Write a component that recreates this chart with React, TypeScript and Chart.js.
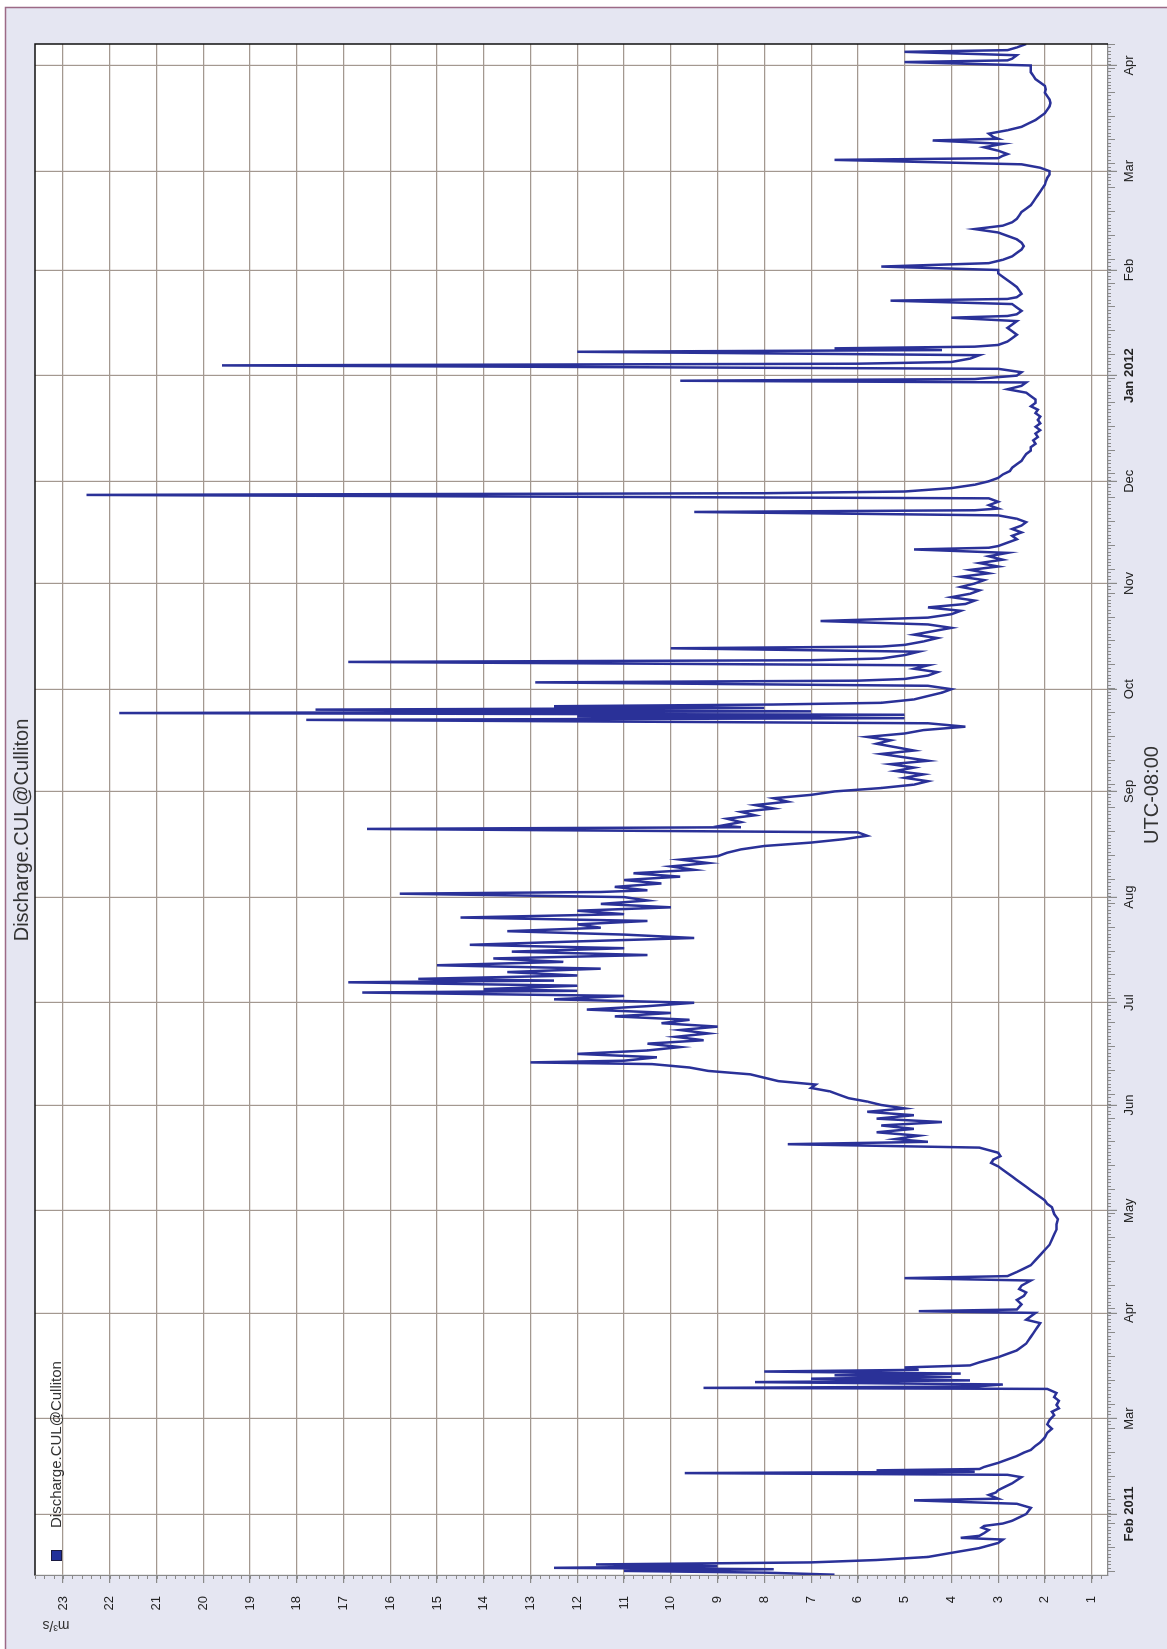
import React, { useEffect, useRef } from 'react';
import { Chart, registerables } from 'chart.js';

Chart.register(...registerables);

const W = 1649;
const H = 1167;
const FONT = '"Liberation Sans", Arial, Helvetica, sans-serif';

// day offsets counted from 2011-01-01
const monthStartDays = [31, 59, 90, 120, 151, 181, 212, 243, 273, 304, 334, 365, 396, 425, 456];
const monthLabels = ['Feb 2011', 'Mar', 'Apr', 'May', 'Jun', 'Jul', 'Aug', 'Sep', 'Oct', 'Nov', 'Dec', 'Jan 2012', 'Feb', 'Mar', 'Apr'];
const boldMonthLabels = ['Feb 2011', 'Jan 2012'];
const valueTicks = [1, 2, 3, 4, 5, 6, 7, 8, 9, 10, 11, 12, 13, 14, 15, 16, 17, 18, 19, 20, 21, 22, 23];

const seriesName = 'Discharge.CUL@Culliton';
const chartTitle = 'Discharge.CUL@Culliton';
const timeAxisTitle = 'UTC-08:00';
const unitLabel = 'm³/s';

// [day, discharge m3/s]
const jan2011: [number, number][] = [[13.2,6.5],[13.8,8],[14.3,11],[14.8,7.8],[15.2,12.5],[15.7,9],[16.2,11.6],[16.8,7],[17.5,5.6],[18.4,4.5],[19.6,4.0],[21,3.4],[22.5,3.0],[23.5,2.9],[24,3.8],[24.6,3.4],[25.4,3.3],[26.3,3.2],[27,3.35],[27.5,3.3],[28.2,2.9],[29,2.7],[30,2.55],[31,2.4]];
const feb2011: [number, number][] = [[32.8,2.3],[34,2.6],[35,4.8],[35.5,3.0],[36.6,3.2],[37.3,3.05],[38,3.0],[39,2.85],[40,2.7],[41.8,2.5],[42.5,2.8],[43,9.7],[43.4,3.5],[43.8,5.6],[44.2,3.4],[44.8,3.3],[46,3.0],[47,2.8],[48,2.6],[49,2.45],[49.8,2.3],[51,2.2],[52,2.1],[53.5,2.0],[54.8,1.95],[56,1.85],[57.3,1.95],[58.6,1.9]];
const mar2011: [number, number][] = [[60,1.8],[61,1.85],[62,1.7],[63,1.75],[64.2,1.7],[65.3,1.8],[66.5,1.75],[67.7,1.95],[68,9.3],[68.4,3.5],[69,2.9],[69.7,8.2],[70.2,3.6],[70.7,7.0],[71.2,4.0],[71.7,6.5],[72.2,3.8],[72.8,8.0],[73.3,4.7],[74,5.0],[74.6,3.6],[75.5,3.4],[77,3.0],[78,2.8],[79,2.6],[80,2.5],[81,2.4],[82,2.35],[83,2.3],[84,2.25],[85,2.2],[86,2.15],[87,2.1],[88,2.4]];
const apr2011: [number, number][] = [[90,2.2],[90.5,4.7],[91,2.6],[92.5,2.5],[93.8,2.6],[95,2.45],[96,2.4],[97,2.55],[98,2.5],[99.5,2.3],[100.2,5.0],[100.8,2.8],[102,2.6],[103,2.45],[104,2.3],[105.5,2.2],[107,2.1],[108.5,2.0],[110,1.9],[111.5,1.85],[113,1.8],[114.5,1.75],[116,1.75],[117.5,1.72],[119,1.8]];
const may2011: [number, number][] = [[121,1.85],[122,1.95],[123,2.0],[124,2.1],[125,2.2],[126,2.3],[127,2.4],[128,2.5],[129,2.6],[130,2.7],[131,2.8],[132,2.9],[133,3.0],[134,3.15],[135,3.1],[136,2.95],[137,3.0],[138.5,3.4],[139.5,7.5],[140.2,4.5],[141,5.2],[142,4.7],[143,5.6],[144,4.8],[145,5.5],[146,4.2],[147,5.6],[148,4.8],[149,5.8],[150,5.0]];
const jun2011: [number, number][] = [[151,5.5],[152,5.8],[153,6.2],[154,6.4],[155,6.6],[156,7.0],[157,6.9],[158,7.7],[159,8.0],[160,8.3],[161,9.2],[162,9.6],[163,10.4],[163.5,13.0],[164,11.0],[165,10.3],[166,12.0],[167,10.5],[168,9.8],[169,10.5],[170,9.3],[171,9.9],[172,9.2],[173,9.8],[174,9.0],[175,10.2],[176,9.6],[177,11.2],[178,10.0],[179,11.8],[180,10.5]];
const jul2011: [number, number][] = [[181,9.5],[182,12.5],[183,11.0],[184,16.6],[184.5,12],[185,14.0],[186,12.0],[187,16.9],[187.5,12.5],[188,15.4],[189,12.0],[190,13.5],[191,11.5],[192,15.0],[193,12.3],[194,13.8],[195,10.5],[196,13.4],[197,11.0],[198,14.3],[199,12.0],[200,9.5],[201,11.0],[202,13.5],[203,11.5],[204,12.0],[205,10.5],[206,14.5],[207,11.0],[208,12.0],[209,10.0],[210,11.5],[211,10.5]];
const aug2011: [number, number][] = [[212,11.0],[213,15.8],[213.5,11.5],[214,10.5],[215,11.2],[216,10.2],[217,11.0],[218,9.8],[219,10.8],[220,9.5],[221,10.0],[222,9.2],[223,9.8],[224,9.0],[225,8.8],[226,8.5],[227,8.0],[228,7.0],[229,6.3],[230,5.8],[231,6.0],[232,16.5],[232.5,8.5],[233,8.9],[234,8.5],[235,8.8],[236,8.2],[237,8.5],[238,7.8],[239,8.2],[240,7.5],[241,7.8],[242,7.0]];
const sep2011: [number, number][] = [[243,6.5],[244,5.5],[245,4.8],[246,4.5],[247,5.0],[248,4.6],[249,5.2],[250,4.8],[251,5.3],[252,4.5],[253,5.0],[254,5.5],[255,4.8],[256,5.2],[257,5.6],[258,5.3],[259,5.8],[260,5.0],[261,4.6],[262,3.7],[263,4.5],[264,17.8],[264.5,5],[265,12],[265.5,5],[266,21.8],[266.5,7],[267,17.6],[267.5,8],[268,12.5],[268.5,7.8],[269,5.5],[270,4.8],[271,4.5],[272,4.2]];
const oct2011: [number, number][] = [[273,4.0],[274,4.5],[275,12.9],[275.5,6],[276,5.0],[277,4.5],[278,4.3],[279,4.8],[280,4.5],[281,16.9],[281.5,7],[282,5.5],[283,5.0],[284,4.7],[285,10.0],[285.5,5.5],[286,5.0],[287,4.6],[288,4.3],[289,4.8],[290,4.4],[291,4.0],[292,4.5],[293,6.8],[294,4.5],[295,4.0],[296,3.8],[297,4.5],[298,3.7],[299,3.5],[300,4.0],[301,3.6],[302,3.4],[303,3.8]];
const nov2011: [number, number][] = [[304,3.5],[305,3.3],[306,3.8],[307,3.2],[308,3.6],[309,3.0],[310,3.4],[311,2.9],[312,3.2],[313,2.8],[314,4.8],[314.5,3.2],[315,3.0],[316,2.8],[317,2.6],[318,2.7],[319,2.5],[320,2.7],[321,2.5],[322,2.4],[323,2.6],[324,3.0],[325,9.5],[325.5,3.5],[326,3.0],[327,3.2],[328,3.0],[329,3.2],[330,22.5],[330.5,8],[331,5.0],[332,4.0],[333,3.5]];
const dec2011: [number, number][] = [[334,3.2],[335,3.0],[336,2.9],[337,2.75],[338,2.7],[339,2.6],[340,2.5],[341,2.45],[342,2.4],[343,2.3],[344,2.3],[345,2.2],[346,2.25],[347,2.15],[348,2.2],[349,2.1],[350,2.2],[351,2.1],[352,2.15],[353,2.1],[354,2.2],[355,2.15],[356,2.3],[357,2.2],[358,2.2],[359,2.3],[360,2.4],[361,2.8],[362,2.5],[363,2.4],[363.5,9.8],[364,3.5]];
const jan2012: [number, number][] = [[365,2.6],[366,2.5],[367,3.0],[368,19.6],[368.5,6],[369,4.0],[370,3.6],[371,3.4],[372,12.0],[372.5,4.2],[373,6.5],[373.5,3.5],[374,3.0],[375,2.8],[376,2.7],[377,2.6],[378,2.7],[379,2.8],[380,2.7],[381,2.6],[382,4.0],[382.5,2.8],[383,2.6],[384,2.5],[385,2.6],[386,2.7],[387,5.3],[387.5,2.8],[388,2.6],[389,2.5],[390,2.55],[391,2.6],[392,2.7],[393,2.8],[394,2.9],[395,3.0]];
const feb2012: [number, number][] = [[396,3.0],[397,5.5],[398,3.2],[399,2.9],[400,2.7],[401,2.6],[402,2.5],[403,2.45],[404,2.5],[405,2.6],[406,2.8],[407,3.0],[408,3.5],[409,2.9],[410,2.7],[411,2.6],[412,2.55],[413,2.5],[414,2.4],[415,2.3],[416,2.25],[417,2.2],[418,2.15],[419,2.1],[420,2.05],[421,2.0],[422,1.98],[423,1.95],[424,1.9]];
const mar2012: [number, number][] = [[425,1.9],[426,2.1],[427,2.5],[428.3,6.5],[428.8,3.0],[429.5,2.9],[430,2.8],[431,3.0],[432,3.3],[433,2.9],[434,4.4],[434.5,3.0],[435,3.1],[436,3.2],[437,2.8],[438,2.5],[439,2.35],[440,2.2],[441,2.1],[442,2.0],[443,1.95],[444,1.9],[445,1.88],[446,1.9],[447,1.95],[448,2.0],[449,1.98],[450,2.0],[451,2.1],[452,2.2],[453,2.25],[454,2.3],[455,2.3]];
const apr2012: [number, number][] = [[456,2.3],[457,5.0],[457.5,2.8],[458,2.7],[459,2.6],[460,5.0],[460.5,2.8],[461.3,2.6],[462.3,2.4]];

const allSegments = [jan2011, feb2011, mar2011, apr2011, may2011, jun2011, jul2011, aug2011, sep2011, oct2011, nov2011, dec2011, jan2012, feb2012, mar2012, apr2012];

const X_MIN = 13.1;
const X_MAX = 462.3;
const Y_MIN = 0.65;
const Y_MAX = 23.6;

const framePlugin = {
  id: 'frameDeco',
  beforeDraw(chart: any) {
    const { ctx, chartArea: a } = chart;
    ctx.save();
    ctx.fillStyle = '#ffffff';
    ctx.fillRect(0, 0, W, H);
    ctx.fillStyle = '#e5e6f2';
    ctx.fillRect(0, 5, 1641, H - 5);
    ctx.strokeStyle = '#9c6a86';
    ctx.lineWidth = 1.5;
    ctx.beginPath();
    ctx.moveTo(0, 5.5);
    ctx.lineTo(1641.5, 5.5);
    ctx.lineTo(1641.5, H);
    ctx.stroke();
    ctx.fillStyle = '#ffffff';
    ctx.fillRect(a.left, a.top, a.right - a.left, a.bottom - a.top);
    ctx.restore();
  },
  afterDraw(chart: any) {
    const { ctx, chartArea: a, scales } = chart;
    const xs = scales.x;
    const ys = scales.y;
    ctx.save();
    ctx.strokeStyle = '#8a8a8a';
    ctx.lineWidth = 1;
    ctx.beginPath();
    for (let v = 0.8; v < Y_MAX; v += 0.2) {
      const p = Math.round(ys.getPixelForValue(v)) + 0.5;
      ctx.moveTo(a.left, p);
      ctx.lineTo(a.left - 4, p);
    }
    ctx.stroke();
    ctx.beginPath();
    for (let d = Math.ceil(X_MIN); d <= X_MAX; d++) {
      const p = Math.round(xs.getPixelForValue(d)) + 0.5;
      const len = d % 7 === 0 ? 7 : 3;
      ctx.moveTo(p, a.bottom);
      ctx.lineTo(p, a.bottom + len);
    }
    ctx.stroke();
    ctx.strokeStyle = '#111111';
    ctx.lineWidth = 1.5;
    ctx.beginPath();
    ctx.moveTo(a.left, a.top);
    ctx.lineTo(a.right, a.top);
    ctx.lineTo(a.right, a.bottom);
    ctx.stroke();
    ctx.fillStyle = '#333333';
    ctx.textAlign = 'center';
    ctx.textBaseline = 'middle';
    ctx.font = `20px ${FONT}`;
    ctx.fillText(chartTitle, 819, 22);
    ctx.fillText(timeAxisTitle, 854, 1152);
    ctx.save();
    ctx.translate(24, 56);
    ctx.rotate(-Math.PI / 2);
    ctx.font = `14px ${FONT}`;
    ctx.fillText(unitLabel, 0, 0);
    ctx.restore();
    ctx.fillStyle = '#22309a';
    ctx.fillRect(88, 51, 11, 11);
    ctx.strokeStyle = '#1a1a40';
    ctx.lineWidth = 1;
    ctx.strokeRect(88.5, 51.5, 10, 10);
    ctx.fillStyle = '#333333';
    ctx.textAlign = 'left';
    ctx.font = `15px ${FONT}`;
    ctx.fillText(seriesName, 121, 57);
    ctx.restore();
  },
};

export default function App() {
  const canvasRef = useRef<HTMLCanvasElement | null>(null);

  useEffect(() => {
    document.body.style.margin = '0';
    document.body.style.overflow = 'hidden';
    const canvas = canvasRef.current;
    if (!canvas) return;
    const points = allSegments.flat().map(([x, y]) => ({ x, y }));
    const chart = new Chart(canvas, {
      type: 'line',
      data: {
        datasets: [
          {
            label: seriesName,
            data: points,
            borderColor: '#2a3198',
            borderWidth: 2.5,
            pointRadius: 0,
            tension: 0,
            fill: false,
          },
        ],
      },
      options: {
        responsive: false,
        animation: false,
        devicePixelRatio: 1,
        parsing: false,
        layout: { padding: { left: 0, right: 44, top: 35, bottom: 0 } },
        plugins: { legend: { display: false }, title: { display: false }, tooltip: { enabled: false } },
        scales: {
          x: {
            type: 'linear',
            min: X_MIN,
            max: X_MAX,
            afterBuildTicks: (axis: any) => {
              axis.ticks = monthStartDays.map((v) => ({ value: v }));
            },
            afterFit: (scale: any) => {
              scale.height = 59;
            },
            grid: { color: '#a39890', lineWidth: 1.2, tickLength: 9, tickColor: '#8a8a8a' },
            border: { color: '#8a8a8a', width: 1.2 },
            ticks: {
              autoSkip: false,
              maxRotation: 0,
              padding: 5,
              color: '#222222',
              font: (c: any) => {
                const idx = c.tick ? monthStartDays.indexOf(c.tick.value) : -1;
                const bold = idx >= 0 && boldMonthLabels.includes(monthLabels[idx]);
                return { family: FONT, size: 13, weight: bold ? 'bold' : 'normal' };
              },
              callback: (value: any) => {
                const idx = monthStartDays.indexOf(Number(value));
                return idx >= 0 ? monthLabels[idx] : '';
              },
            },
          },
          y: {
            type: 'linear',
            min: Y_MIN,
            max: Y_MAX,
            afterBuildTicks: (axis: any) => {
              axis.ticks = valueTicks.map((v) => ({ value: v }));
            },
            afterFit: (scale: any) => {
              scale.width = 74;
            },
            grid: { color: '#a39890', lineWidth: 1.2, tickLength: 8, tickColor: '#8a8a8a' },
            border: { color: '#8a8a8a', width: 1.2 },
            ticks: {
              autoSkip: false,
              padding: 13,
              color: '#222222',
              font: { family: FONT, size: 13 },
              callback: (value: any) => String(value),
            },
          },
        },
      },
      plugins: [framePlugin],
    } as any);
    return () => chart.destroy();
  }, []);

  return (
    <div
      style={{
        position: 'absolute',
        left: 0,
        top: 0,
        width: W,
        height: H,
        transformOrigin: '0 0',
        transform: `translate(0px, ${W}px) rotate(-90deg)`,
      }}
    >
      <canvas ref={canvasRef} width={W} height={H} style={{ width: W, height: H, display: 'block' }} />
    </div>
  );
}
